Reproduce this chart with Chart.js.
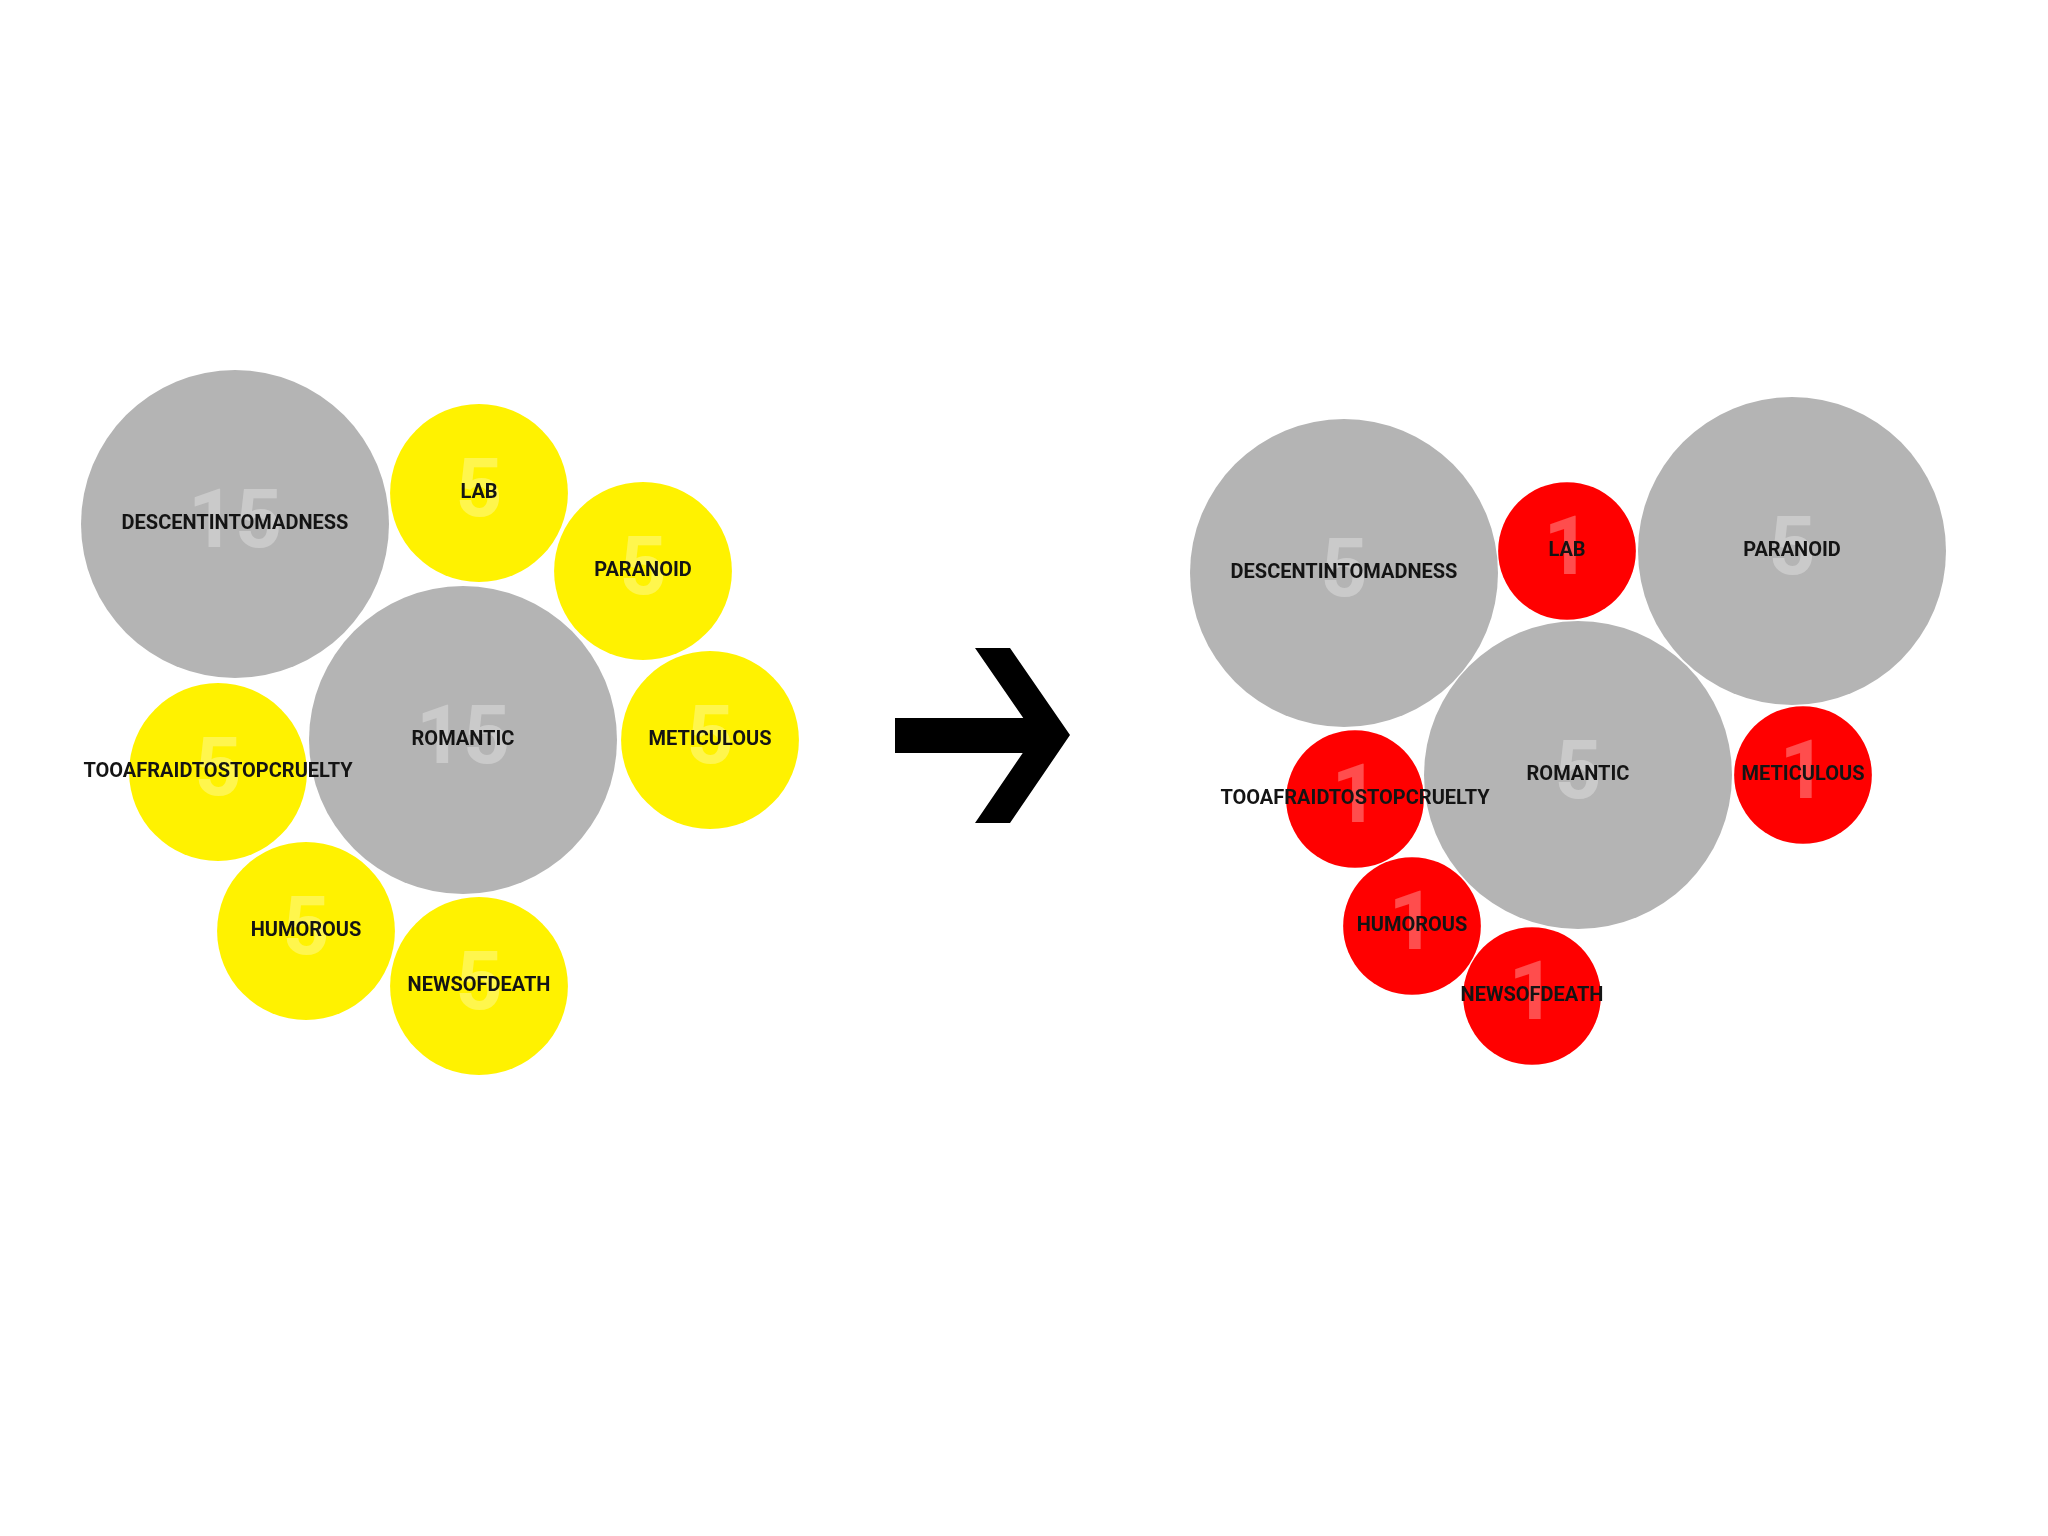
<!DOCTYPE html>
<html>
<head>
<meta charset="utf-8">
<script src="https://cdn.jsdelivr.net/npm/chart.js@4/dist/chart.umd.min.js"></script>
<style>
  html, body { margin: 0; padding: 0; background: #ffffff; }
  #wrap { width: 2048px; height: 1536px; position: relative; }
</style>
</head>
<body>
<div id="wrap"><canvas id="chart"></canvas></div>
<script>
// categories shared by both panels
const categories = ['DESCENTINTOMADNESS', 'LAB', 'PARANOID', 'ROMANTIC', 'METICULOUS',
  'TOOAFRAIDTOSTOPCRUELTY', 'HUMOROUS', 'NEWSOFDEATH'];

// left panel (before)
const leftValues = [15, 5, 5, 15, 5, 5, 5, 5];
const leftX = [235, 479, 643, 463, 710, 218, 306, 479];
const leftY = [524, 493, 571, 740, 740, 772, 931, 986];

// right panel (after)
const rightValues = [5, 1, 5, 5, 1, 1, 1, 1];
const rightX = [1344, 1567, 1792, 1578, 1803, 1355, 1412, 1532];
const rightY = [573, 551, 551, 775, 775, 799, 926, 996];

const MAX_R = 154;
const GREY = '#b4b4b4';

function points(xs, ys, vals) {
  return xs.map((x, i) => ({ x, y: ys[i], v: vals[i], label: categories[i] }));
}

function radiusFor(ctx) {
  const vals = ctx.dataset.data.map(d => d.v);
  const max = Math.max(...vals);
  return MAX_R * Math.sqrt(ctx.raw.v / max);
}

const labelsPlugin = {
  id: 'bubbleLabels',
  afterDatasetsDraw(chart) {
    const ctx = chart.ctx;
    ctx.save();
    ctx.textAlign = 'center';
    ctx.textBaseline = 'middle';
    chart.data.datasets.forEach((ds, di) => {
      chart.getDatasetMeta(di).data.forEach((el, i) => {
        ctx.font = 'bold 82px Roboto';
        ctx.fillStyle = 'rgba(255,255,255,0.3)';
        ctx.fillText(String(ds.data[i].v), el.x, el.y + 2);
      });
    });
    chart.data.datasets.forEach((ds, di) => {
      chart.getDatasetMeta(di).data.forEach((el, i) => {
        ctx.font = 'bold 20px Roboto';
        ctx.fillStyle = '#141414';
        ctx.fillText(ds.data[i].label, el.x, el.y);
      });
    });
    ctx.restore();
  }
};

const arrowPlugin = {
  id: 'arrow',
  afterDraw(chart) {
    const ctx = chart.ctx;
    const sx = chart.scales.x, sy = chart.scales.y;
    const p = (x, y) => [sx.getPixelForValue(x), sy.getPixelForValue(y)];
    ctx.save();
    ctx.fillStyle = '#000';
    ctx.beginPath();
    let a = p(895, 718), b = p(1045, 753);
    ctx.rect(a[0], a[1], b[0] - a[0], b[1] - a[1]);
    ctx.fill();
    ctx.beginPath();
    [[975, 648], [1010, 648], [1070, 735], [1010, 823], [975, 823], [1035, 735]].forEach((q, i) => {
      const pt = p(q[0], q[1]);
      if (i === 0) ctx.moveTo(pt[0], pt[1]); else ctx.lineTo(pt[0], pt[1]);
    });
    ctx.closePath();
    ctx.fill();
    ctx.restore();
  }
};

new Chart(document.getElementById('chart'), {
  type: 'bubble',
  data: {
    datasets: [
      {
        label: 'before',
        data: points(leftX, leftY, leftValues),
        backgroundColor: ctx => ctx.raw.v === 15 ? GREY : '#fff200',
        borderWidth: 0,
        radius: radiusFor,
        clip: false
      },
      {
        label: 'after',
        data: points(rightX, rightY, rightValues),
        backgroundColor: ctx => ctx.raw.v === 5 ? GREY : '#ff0000',
        borderWidth: 0,
        radius: radiusFor,
        clip: false
      }
    ]
  },
  options: {
    responsive: true,
    maintainAspectRatio: false,
    animation: false,
    events: [],
    layout: { padding: 0, autoPadding: false },
    plugins: { legend: { display: false }, tooltip: { enabled: false } },
    scales: {
      x: { type: 'linear', min: 0, max: 2048, display: false },
      y: { type: 'linear', min: 0, max: 1536, reverse: true, display: false }
    }
  },
  plugins: [labelsPlugin, arrowPlugin]
});
</script>
</body>
</html>
